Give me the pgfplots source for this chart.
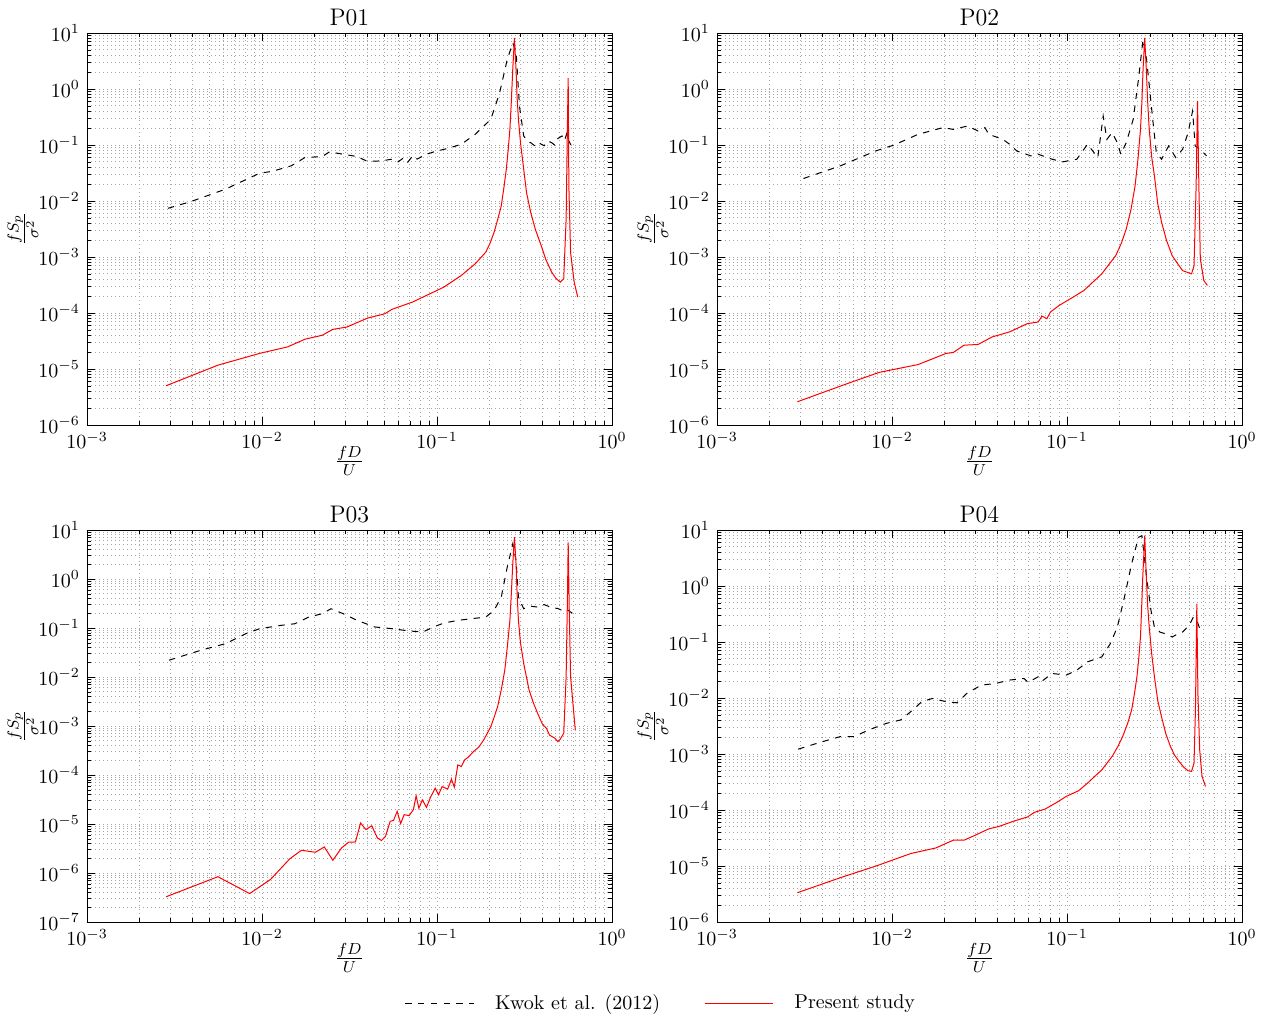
\documentclass[border=0pt]{standalone}
\usepackage{pgfplots}
\pgfplotsset{compat=1.18}
\pgfplotsset{
  every axis/.append style={
    scale only axis, width=262.5pt, height=196pt,
    xmin=1e-3, xmax=1,
    xtick={1e-3,1e-2,1e-1,1},
    tick align=inside,
    major tick length=4pt, minor tick length=2pt,
    tick style={black},
    grid=both,
    major grid style={dash pattern=on 0.5pt off 1.5pt, gray!70, line width=0.45pt},
    minor grid style={dash pattern=on 0.5pt off 1.5pt, gray!70, line width=0.45pt},
    xlabel={\large$\frac{fD}{U}$},
    ylabel={\large$\frac{fS_p}{\sigma^2}$},
    xlabel style={at={(axis description cs:0.5,-0.092)}, anchor=center},
    ylabel style={at={(axis description cs:-0.122,0.5)}, anchor=center},
    title style={font=\large, yshift=-6pt},
  },
}
\tikzset{
  kwok/.style={black, line width=0.5pt, dash pattern=on 3.2pt off 3.2pt},
  pres/.style={red, line width=0.5pt},
}
\begin{document}
\begin{tikzpicture}
\useasboundingbox (0pt,0pt) rectangle (631.5pt,510pt);

% P01
\begin{loglogaxis}[anchor=south west, at={(43.5pt,297.5pt)}, title={P01},
  ymin=1e-6, ymax=1e1, ytick={1e-6,1e-5,1e-4,1e-3,1e-2,1e-1,1,1e1}]
\addplot[kwok] coordinates {
(0.0029,0.0074)(0.0039,0.0097)(0.0062,0.0163)(0.0097,0.0314)(0.0114,0.0337)
(0.0147,0.0425)(0.0176,0.0597)(0.0221,0.0622)(0.0243,0.0754)(0.0291,0.0684)
(0.035,0.0622)(0.0401,0.0507)(0.0482,0.0521)(0.0552,0.0557)(0.06,0.050)
(0.064,0.058)(0.068,0.049)(0.0726,0.0639)(0.077,0.056)(0.0871,0.0684)
(0.100,0.0784)(0.1148,0.0863)(0.1377,0.103)(0.1653,0.155)(0.203,0.287)
(0.228,0.855)(0.252,3.35)(0.271,6.64)(0.283,4.72)(0.296,0.495)(0.313,0.145)
(0.33,0.115)(0.343,0.11)(0.36,0.098)(0.38,0.112)(0.394,0.103)(0.41,0.097)
(0.43,0.118)(0.452,0.11)(0.47,0.1)(0.49,0.13)(0.518,0.145)(0.535,0.12)
(0.554,0.166)(0.565,0.12)(0.58,0.103)(0.595,0.09)(0.608,0.096)};
\addplot[pres] coordinates {
(0.00283,5.02e-6)(0.0056,1.17e-5)(0.0097,1.9e-5)(0.014,2.48e-5)(0.0176,3.4e-5)
(0.0221,4.0e-5)(0.0254,5.1e-5)(0.0305,5.6e-5)(0.0401,8.1e-5)(0.0504,9.7e-5)
(0.0552,1.16e-4)(0.0726,1.57e-4)(0.0871,2.06e-4)(0.1095,2.9e-4)(0.1377,4.68e-4)
(0.1653,7.55e-4)(0.19,1.22e-3)(0.2,1.7e-3)(0.212,2.76e-3)(0.222,4.6e-3)
(0.233,8.2e-3)(0.241,0.017)(0.249,0.037)(0.255,0.08)(0.261,0.19)(0.266,0.6)
(0.271,2.23)(0.277,8.15)(0.283,2.2)(0.287,0.7)(0.292,0.29)(0.3,0.11)
(0.313,0.037)(0.325,0.014)(0.343,6.3e-3)(0.365,3.1e-3)(0.394,1.6e-3)
(0.42,8.8e-4)(0.452,5.37e-4)(0.48,4.1e-4)(0.506,3.56e-4)(0.53,4.08e-4)
(0.547,4.8e-3)(0.557,0.287)(0.562,1.58)(0.567,0.0186)(0.58,1.2e-3)
(0.608,3.56e-4)(0.637,1.93e-4)};
\end{loglogaxis}

% P02
\begin{loglogaxis}[anchor=south west, at={(358.5pt,297.5pt)}, title={P02},
  ymin=1e-6, ymax=1e1, ytick={1e-6,1e-5,1e-4,1e-3,1e-2,1e-1,1,1e1}]
\addplot[kwok] coordinates {
(0.00312,0.0252)(0.00508,0.0425)(0.00808,0.0784)(0.0102,0.0989)(0.0141,0.155)
(0.0195,0.204)(0.0224,0.19)(0.027,0.218)(0.031,0.178)(0.034,0.204)
(0.0357,0.155)(0.043,0.126)(0.047,0.103)(0.0517,0.078)(0.0622,0.0639)
(0.0684,0.0684)(0.0822,0.0557)(0.0946,0.05)(0.1138,0.0557)(0.131,0.103)
(0.15,0.0597)(0.161,0.329)(0.169,0.126)(0.181,0.166)(0.194,0.11)
(0.203,0.0684)(0.218,0.11)(0.239,0.287)(0.256,1.48)(0.272,7.6)(0.285,3.35)
(0.309,0.287)(0.324,0.073)(0.347,0.0557)(0.381,0.096)(0.418,0.0597)
(0.458,0.084)(0.492,0.166)(0.522,0.404)(0.54,0.096)(0.573,0.084)(0.628,0.064)};
\addplot[pres] coordinates {
(0.00288,2.6e-6)(0.00557,5.5e-6)(0.00845,8.7e-6)(0.0141,1.2e-5)(0.0204,1.9e-5)
(0.0224,1.97e-5)(0.0258,2.66e-5)(0.031,2.74e-5)(0.0374,3.74e-5)(0.047,4.6e-5)
(0.0594,6.46e-5)(0.0684,6.9e-5)(0.072,8.8e-5)(0.0767,7.9e-5)(0.0804,1.04e-4)
(0.0904,1.37e-4)(0.1087,1.93e-4)(0.125,2.53e-4)(0.158,5e-4)(0.19,1.06e-3)
(0.205,1.8e-3)(0.218,3.16e-3)(0.232,7e-3)(0.245,0.0187)(0.255,0.06)
(0.263,0.19)(0.268,0.6)(0.272,2.2)(0.278,8.15)(0.284,2.2)(0.289,0.6)
(0.295,0.19)(0.305,0.06)(0.316,0.028)(0.33,9e-3)(0.347,4.2e-3)(0.37,2e-3)
(0.399,1.06e-3)(0.43,7.5e-4)(0.458,5.7e-4)
(0.515,5e-4)(0.532,7.0e-4)(0.547,0.0187)(0.557,0.61)(0.567,0.0187)
(0.578,9.3e-4)(0.605,3.8e-4)(0.634,3.1e-4)};
\end{loglogaxis}

% P03
\begin{loglogaxis}[anchor=south west, at={(43.5pt,49pt)}, title={P03},
  ymin=1e-7, ymax=1e1, ytick={1e-7,1e-6,1e-5,1e-4,1e-3,1e-2,1e-1,1,1e1},
  legend style={at={(1.095,-0.207)}, anchor=center, draw=none, fill=none,
    legend columns=2, font=\normalsize,
    /tikz/every even column/.append style={column sep=20pt}},
  legend cell align=left,
  legend image code/.code={\draw[#1] (0cm,0cm) -- (1.2cm,0cm); \path (1.5cm,0cm);}]
\addplot[kwok] coordinates {
(0.00294,0.022)(0.00448,0.0352)(0.0062,0.048)(0.0081,0.0767)(0.0097,0.0968)
(0.0128,0.113)(0.0154,0.122)(0.0185,0.167)(0.0221,0.196)(0.0248,0.247)
(0.0291,0.196)(0.035,0.143)(0.044,0.105)(0.0552,0.097)(0.0693,0.0869)
(0.0832,0.083)(0.0955,0.105)(0.1095,0.126)(0.1315,0.143)(0.158,0.155)
(0.19,0.167)(0.212,0.229)(0.233,0.428)(0.252,1.74)(0.271,5.19)(0.283,2.38)
(0.292,0.428)(0.313,0.247)(0.34,0.28)(0.376,0.267)(0.41,0.3)(0.452,0.26)
(0.49,0.25)(0.518,0.229)(0.55,0.24)(0.594,0.2)};
\addlegendentry{Kwok et al. (2012)}
\addplot[pres] coordinates {
(0.00283,3.27e-7)(0.0056,8.4e-7)(0.0085,3.8e-7)(0.0112,7.4e-7)(0.0144,1.94e-6)
(0.0168,2.91e-6)(0.0202,2.65e-6)(0.0227,3.4e-6)(0.0254,1.82e-6)(0.0285,3.25e-6)
(0.0312,4.24e-6)(0.0342,4.3e-6)(0.0366,1.05e-5)(0.0392,7.7e-6)(0.0424,9.2e-6)
(0.0456,5.2e-6)(0.0482,4.6e-6)(0.0508,5.6e-6)(0.054,1.13e-5)(0.0565,1.19e-5)
(0.0592,1.81e-5)(0.062,1.02e-5)(0.0649,1.55e-5)(0.0693,1.48e-5)(0.0733,1.96e-5)
(0.076,3.77e-5)(0.0788,2.1e-5)(0.0825,3.1e-5)(0.0871,2.19e-5)(0.092,3.55e-5)
(0.0977,5.4e-5)(0.102,3.95e-5)(0.107,5.8e-5)(0.115,5.15e-5)(0.121,8.2e-5)
(0.1256,5.65e-5)(0.1315,1.61e-4)(0.1377,1.49e-4)(0.144,2.04e-4)(0.151,2.31e-4)
(0.1615,3.0e-4)(0.173,3.68e-4)(0.185,5.2e-4)(0.203,9.7e-4)(0.212,1.5e-3)
(0.222,2.47e-3)(0.233,5.5e-3)(0.244,0.0138)(0.253,0.045)(0.261,0.143)
(0.266,0.5)(0.271,2.03)(0.277,7.1)(0.283,2.03)(0.287,0.5)(0.292,0.143)
(0.3,0.05)(0.313,0.0188)(0.336,5.4e-3)(0.355,3e-3)(0.376,1.81e-3)(0.40,1.1e-3)
(0.422,8.97e-4)(0.44,6.5e-4)(0.473,5.6e-4)(0.49,4.8e-4)(0.506,5.36e-4)(0.53,7.1e-4)
(0.547,0.0101)(0.557,0.5)(0.562,5.6)(0.57,0.229)(0.58,0.0101)(0.617,8.3e-4)};
\addlegendentry{Present study}
\end{loglogaxis}

% P04
\begin{loglogaxis}[anchor=south west, at={(358.5pt,49pt)}, title={P04},
  ymin=1e-6, ymax=1e1, ytick={1e-6,1e-5,1e-4,1e-3,1e-2,1e-1,1,1e1}]
\addplot[kwok] coordinates {
(0.00291,1.22e-3)(0.00385,1.6e-3)(0.00508,2.05e-3)(0.0061,2.05e-3)(0.00736,2.69e-3)
(0.0093,3.53e-3)(0.0112,4.05e-3)(0.0128,5.7e-3)(0.0148,8.6e-3)(0.017,9.8e-3)
(0.0204,8.6e-3)(0.0235,8.2e-3)(0.027,0.0124)(0.0325,0.017)(0.0392,0.0182)
(0.047,0.0209)(0.0568,0.0223)(0.06,0.019)(0.0684,0.0239)(0.072,0.02)
(0.0822,0.0274)(0.099,0.0256)(0.1138,0.0314)(0.131,0.0442)(0.158,0.0542)
(0.177,0.0937)(0.194,0.185)(0.213,0.634)(0.234,2.48)(0.256,7.4)(0.268,7.9)
(0.285,1.44)(0.302,0.367)(0.316,0.185)(0.34,0.15)(0.363,0.141)(0.399,0.123)
(0.43,0.14)(0.458,0.151)(0.5,0.2)(0.527,0.279)(0.552,0.244)(0.578,0.162)};
\addplot[pres] coordinates {
(0.00288,3.33e-6)(0.00508,6.2e-6)(0.00808,9.95e-6)(0.0128,1.67e-5)(0.0178,2.1e-5)
(0.0224,2.89e-5)(0.0258,2.89e-5)(0.0296,3.49e-5)(0.0357,4.6e-5)(0.041,5.1e-5)
(0.0494,6.3e-5)(0.0594,7.5e-5)(0.0653,9.1e-5)(0.075,1.04e-4)(0.0862,1.33e-4)
(0.099,1.75e-4)(0.1166,2.21e-4)(0.131,3.02e-4)(0.158,5.2e-4)(0.181,9.0e-4)
(0.195,1.35e-3)(0.208,2.05e-3)(0.222,3.5e-3)(0.234,6.1e-3)(0.243,0.012)
(0.251,0.024)(0.257,0.05)(0.263,0.123)(0.267,0.4)(0.271,1.44)(0.278,7.9)
(0.284,1.44)(0.289,0.45)(0.295,0.185)(0.305,0.06)(0.316,0.024)(0.33,9e-3)
(0.347,4.6e-3)(0.367,2.3e-3)(0.39,1.36e-3)(0.412,9.5e-4)(0.438,7.3e-4)
(0.465,5.8e-4)(0.492,5e-4)(0.515,4.9e-4)(0.532,6.9e-4)(0.542,6.1e-3)
(0.552,0.48)(0.56,0.012)(0.573,1.19e-3)(0.591,4e-4)(0.619,2.63e-4)};
\end{loglogaxis}
\end{tikzpicture}
\end{document}
